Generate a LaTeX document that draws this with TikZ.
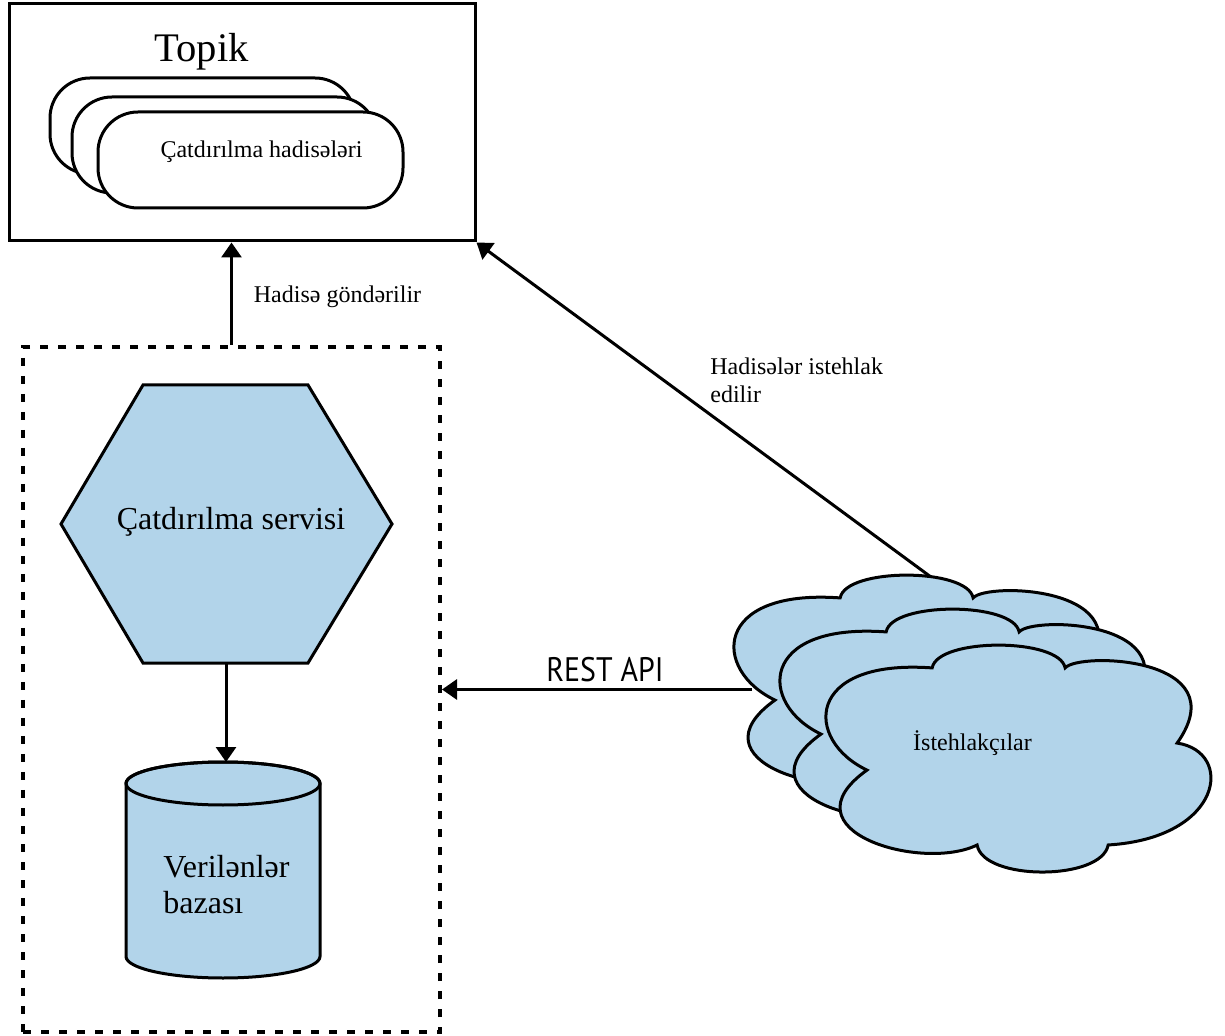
\documentclass[tikz,border=0pt]{standalone}
\usepackage{fontspec}
\setmainfont{Liberation Serif}
\newfontfamily\apifont[FakeStretch=0.88]{PT Sans}
\usetikzlibrary{arrows.meta}
\definecolor{svcblue}{RGB}{178,212,234}
\tikzset{
  outline/.style={draw=black, line width=1.5pt},
  arr/.style={line width=1.5pt, -{Triangle[length=7.5pt,width=10pt]}},
  evt/.style={outline, fill=white, rounded corners=20pt,
    minimum width=152.5pt, minimum height=48pt, inner sep=0pt},
  txt/.style={inner sep=0pt, font=\fontsize{12}{14}\selectfont},
}
% six-bump cloud drawn in a unit box (y grows downwards), placed at #1
\newcommand\consumercloud[1]{%
  \begin{scope}[shift={#1}, xscale=381, yscale=227]
    \path[outline, fill=svcblue]
      (0.105,0.551) .. controls (-0.06,0.42) and (-0.06,0.06) .. (0.276,0.101)
      .. controls (0.29,-0.033) and (0.61,-0.033) .. (0.625,0.101)
      .. controls (0.66,0.03) and (1.08,0.05) .. (0.919,0.432)
      .. controls (1.07,0.47) and (1.04,0.85) .. (0.738,0.881)
      .. controls (0.72,1.04) and (0.41,1.04) .. (0.394,0.881)
      .. controls (0.25,1.0) and (-0.12,0.82) .. (0.105,0.551) -- cycle;
  \end{scope}}
\begin{document}
\begin{tikzpicture}[x=0.5pt, y=-0.5pt]
\useasboundingbox (0,0) rectangle (1225,1036);

% topic box with the stacked event cards
\node[outline, minimum width=233pt, minimum height=118.5pt, inner sep=0pt] (topik) at (242,122.5) {};
\node[txt, font=\fontsize{20.3}{24}\selectfont, anchor=base] (topiklbl) at (201.5,62) {Topik};
\node[evt] (ev1) at (202.5,126) {};
\node[evt] (ev2) at (224.5,145) {};
\node[evt] (ev3) at (250.5,160) {};
\node[txt, anchor=base] (evlbl) at (261.5,158) {Çatdırılma hadisələri};

% service boundary
\node[draw=black, line width=2pt, dash pattern=on 4pt off 5pt,
      minimum width=208.5pt, minimum height=342.5pt, inner sep=0pt] (svcbox) at (231.5,689.5) {};

% delivery service hexagon
\path[outline, fill=svcblue] (143,385) -- (308,385) -- (392,524) -- (308,663) -- (143,663) -- (61,524) -- cycle;
\coordinate (hexbot) at (226,663);
\node[txt, font=\fontsize{16}{18}\selectfont, anchor=base] (svclbl) at (231,530) {Çatdırılma servisi};

% database cylinder
\path[outline, fill=svcblue] (126,783.5) -- (126,956.5)
  arc[start angle=180, end angle=0, x radius=97, y radius=21.5] -- (320,783.5)
  arc[start angle=0, end angle=-180, x radius=97, y radius=21.5] -- cycle;
\draw[outline] (223,783.5) ellipse [x radius=97, y radius=21.5];
\coordinate (dbtop) at (226,762);
\node[txt, font=\fontsize{16}{18}\selectfont, anchor=north west, align=left] (dblbl) at (163,855) {Verilənlər\\bazası};

% connectors
\coordinate (cloudtop) at (935,580);
\coordinate (cloudleft) at (752,689.5);
\draw[arr] (hexbot) -- (dbtop);
\draw[arr] (svcbox.north) -- (svcbox.north |- topik.south);
\node[txt, anchor=base] (sendlbl) at (337.5,303) {Hadisə göndərilir};
\draw[arr] (cloudtop) -- (topik.south east);
\node[txt, anchor=north west, align=left] (conslbl) at (710,357) {Hadisələr istehlak\\edilir};
\draw[arr] (cloudleft) -- (svcbox.east);
\node[txt, font=\apifont\fontsize{17}{20}\selectfont, anchor=base] (restlbl) at (605,682) {REST API};

% consumers
\consumercloud{(735,575)}
\consumercloud{(781,609)}
\consumercloud{(827,645)}
\node[txt, anchor=base] (userlbl) at (972.5,750) {İstehlakçılar};
\end{tikzpicture}
\end{document}
